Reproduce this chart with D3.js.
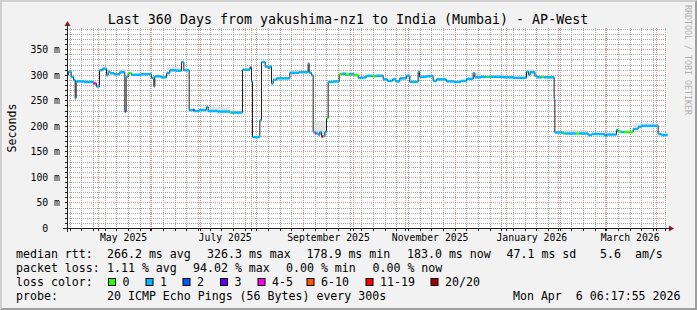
<!DOCTYPE html>
<html>
<head>
<meta charset="utf-8">
<script src="https://cdn.jsdelivr.net/npm/d3@7"></script>
<style>
body { margin: 0; background: #f2f2f2; }
svg { display: block; }
text { font-family: "DejaVu Sans Mono", monospace; fill: #000; white-space: pre; }
</style>
</head>
<body>
<div id="chart"></div>
<script>
// median rtt (ms) as steps: day offset from graph start, value, loss bin
const dayStart = [0, 0.6, 2.2, 3.6, 4.6, 5.2, 10, 15.6, 17.4, 19.2,
    21, 23.4, 24.4, 25.6, 28, 31.4, 34.4, 35.2, 36.4, 38.4,
    44, 50.4, 51.8, 52.4, 56, 59.4, 61.4, 65, 68.4, 69.8,
    73, 75.4, 76.2, 79, 83.4, 84.4, 90, 97.4, 98.4, 105,
    109.4, 110.4, 111, 115.4, 116.4, 118.6, 120.4, 121.4, 122.4, 123.4,
    125.4, 133.4, 139, 144.4, 145, 146.4, 147.4, 148.4, 149.4, 150.4,
    151.4, 152.4, 153.4, 154.4, 155.4, 156.4, 160, 163, 165, 167,
    169, 172, 174.4, 178, 179.4, 183, 185, 189.4, 192, 195,
    197, 199.4, 203.4, 205.4, 210.4, 211.2, 215, 219.4, 221.4, 227.4,
    232, 236, 239.4, 243.4, 244.4, 248, 251.4, 253, 261.4, 268,
    275.4, 276.6, 277.6, 280.4, 281.6, 284.6, 286, 292, 292.4, 297.4,
    298.4, 305, 307, 312.4, 314.6, 322.4, 323.4, 329.4, 330.4, 332,
    334, 339.4, 342.4, 344.4, 354.4, 356.4];

const medianMs = [301, 307, 297, 291, 255, 288, 287, 284, 278, 310,
    313, 300, 307, 304, 302, 306, 229, 297, 304, 301,
    302, 295, 278, 298, 296, 304, 310, 309, 326, 310,
    232, 232, 230, 232, 238, 230, 229, 227, 227, 311,
    315, 288, 179, 212, 326, 317, 314, 317, 284, 291,
    294, 305, 306, 323, 305, 300, 189, 187, 186, 183,
    189, 180, 181, 189, 216, 287, 288, 302, 303, 301,
    302, 300, 295, 296, 299, 298, 299, 292, 289, 292,
    288, 294, 299, 287, 307, 297, 298, 289, 292, 288,
    287, 289, 293, 304, 296, 297, 297, 297, 296, 295,
    307, 301, 306, 299, 296, 297, 296, 253, 188, 186,
    186, 186, 186, 183, 185, 181, 184, 193, 190, 189,
    189, 195, 199, 201, 185, 183];

const lossBin = [1, 1, 1, 1, 1, 1, 1, 4, 1, 1,
    1, 1, 1, 1, 1, 1, 2, 1, 0, 1,
    1, 1, 1, 1, 1, 1, 1, 1, 1, 1,
    1, 3, 1, 1, 1, 1, 1, 0, 1, 1,
    2, 1, 1, 1, 1, 1, 1, 1, 1, 1,
    1, 1, 1, 1, 1, 1, 1, 4, 1, 1,
    1, 6, 1, 1, 0, 1, 1, 0, 1, 0,
    1, 0, 1, 1, 1, 0, 1, 1, 1, 1,
    1, 1, 1, 1, 1, 1, 1, 1, 1, 1,
    1, 1, 1, 1, 1, 1, 0, 1, 1, 1,
    1, 1, 1, 1, 1, 0, 1, 1, 1, 0,
    1, 0, 1, 1, 1, 1, 1, 1, 0, 1,
    0, 1, 1, 1, 1, 1];

// smoke (ping spread) patches
const smokeFrom = [31, 59.4, 84.4, 147.4, 163, 203, 242, 257, 275.4, 298, 339.4];
const smokeTo   = [34.4, 68.4, 97.4, 155.4, 175, 206, 248, 262, 281.6, 312, 354.4];
const smokeLo   = [302, 306, 229, 184, 300, 292, 296, 296, 297, 186, 199];
const smokeHi   = [312, 316, 238, 210, 306, 301, 306, 302, 312, 193, 206];

const lossLabels = ["0", "1", "2", "3", "4-5", "6-10", "11-19", "20/20"];
const lossColors = ["#26ff00", "#00b8ff", "#0059ff", "#5e00ff", "#ff00ea", "#ff5500", "#ff0000", "#a10000"];

const yTicks = [0, 50, 100, 150, 200, 250, 300, 350];
const monthLabels = ["May 2025", "July 2025", "September 2025", "November 2025", "January 2026", "March 2026"];
const monthLabelDates = [[2025, 4], [2025, 6], [2025, 8], [2025, 10], [2026, 0], [2026, 2]];

const rttStats = ["266.2 ms avg", "326.3 ms max", "178.9 ms min", "183.0 ms now", "47.1 ms sd", "5.6  am/s"];
const lossStats = ["1.11 % avg", "94.02 % max", "0.00 % min", "0.00 % now"];
const probeText = "20 ICMP Echo Pings (56 Bytes) every 300s";
const stampText = "Mon Apr  6 06:17:55 2026";
const titleText = "Last 360 Days from yakushima-nz1 to India (Mumbai) - AP-West";

// layout
const width = 697, height = 310;
const plotL = 67, plotR = 667, plotT = 28, plotB = 228;
const yMax = 391.6;
const rttX = [107, 207, 306.5, 407, 506.5, 600];
const lossX = [107, 193, 286, 372.5];
const boxX = [108, 145.5, 182.5, 220, 257.5, 306.5, 365.5, 430.5];
const rowY = [257.5, 271.5, 285.5, 299.5];

const t0 = Date.UTC(2025, 3, 12, 9, 36);
const t1 = t0 + 360 * 864e5;

const x = d3.scaleLinear().domain([0, 360]).range([plotL + 0.5, plotR + 0.5]);
const xt = d3.scaleUtc().domain([t0, t1]).range([plotL + 0.5, plotR + 0.5]);
const y = d3.scaleLinear().domain([0, yMax]).range([plotB + 0.5, plotT + 0.5]);
const px = v => Math.round(v - 0.5) + 0.5;

const svg = d3.select("#chart").append("svg")
    .attr("width", width)
    .attr("height", height);

svg.append("rect").attr("width", width).attr("height", height).attr("fill", "#f2f2f2");
// bevel frame
svg.append("polygon").attr("points", `0,${height} 2,${height - 2} 2,2 ${width - 2},2 ${width},0 0,0`).attr("fill", "#cfcfcf");
svg.append("polygon").attr("points", `2,${height - 2} ${width - 2},${height - 2} ${width - 2},2 ${width},0 ${width},${height} 0,${height}`).attr("fill", "#9e9e9e");

svg.append("rect")
    .attr("x", plotL).attr("y", plotT)
    .attr("width", plotR - plotL).attr("height", plotB - plotT)
    .attr("fill", "#fff");

// grid: 1px dotted lines
const weeks = d3.utcMonday.range(new Date(t0), new Date(t1));
const months = d3.utcMonth.range(new Date(t0), new Date(t1));
const minorY = d3.range(10, yMax, 10).filter(v => v % 50 !== 0);

const minorGrid = svg.append("g")
    .attr("fill", "none")
    .attr("stroke", "#a8a8a8")
    .attr("stroke-width", 1)
    .attr("stroke-dasharray", "1 1");
minorGrid.selectAll("path.v").data(weeks).join("path")
    .attr("class", "v")
    .attr("d", d => `M${px(xt(d))},${plotT}V${plotB}`);
minorGrid.selectAll("path.h").data(minorY).join("path")
    .attr("class", "h")
    .attr("d", d => `M${plotL},${px(y(d))}H${plotR}`);

const majorGrid = svg.append("g")
    .attr("fill", "none")
    .attr("stroke", "#ec9494")
    .attr("stroke-width", 1)
    .attr("stroke-dasharray", "1 1");
majorGrid.selectAll("path.v").data(months).join("path")
    .attr("class", "v")
    .attr("d", d => `M${px(xt(d))},${plotT}V${plotB}`);
majorGrid.selectAll("path.h").data(yTicks.slice(1)).join("path")
    .attr("class", "h")
    .attr("d", d => `M${plotL},${px(y(d))}H${plotR}`);

// smoke
svg.append("g").selectAll("rect").data(smokeFrom).join("rect")
    .attr("x", (d, i) => x(d))
    .attr("width", (d, i) => x(smokeTo[i]) - x(d))
    .attr("y", (d, i) => y(smokeHi[i]))
    .attr("height", (d, i) => y(smokeLo[i]) - y(smokeHi[i]))
    .attr("fill", "#d4d4d4")
    .attr("opacity", 0.6);

// median line
const steps = dayStart.map((d, i) => [d, medianMs[i]]);
steps.push([360, medianMs[medianMs.length - 1]]);
svg.append("path")
    .datum(steps)
    .attr("fill", "none")
    .attr("stroke", "#202020")
    .attr("stroke-width", 1)
    .attr("d", d3.line().x(d => x(d[0])).y(d => y(d[1])).curve(d3.curveStepAfter));

// loss-coloured median bands
svg.append("g")
    .selectAll("rect").data(dayStart).join("rect")
    .attr("x", d => x(d))
    .attr("width", (d, i) => Math.max(1, x(i + 1 < dayStart.length ? dayStart[i + 1] : 360) - x(d)))
    .attr("y", (d, i) => y(medianMs[i]) - 1.25)
    .attr("height", 2.5)
    .attr("fill", (d, i) => lossColors[lossBin[i]]);

// axes
const ax = svg.append("g").attr("shape-rendering", "crispEdges").attr("stroke", "#1f1f1f");
ax.append("line").attr("x1", plotL - 4).attr("x2", plotR + 4).attr("y1", plotB + 0.5).attr("y2", plotB + 0.5);
ax.append("line").attr("x1", plotL + 0.5).attr("x2", plotL + 0.5).attr("y1", plotB + 4).attr("y2", plotT - 4);
ax.selectAll("line.yt").data(d3.range(0, yMax, 10)).join("line")
    .attr("class", "yt")
    .attr("x1", plotL - 2).attr("x2", plotL)
    .attr("y1", d => px(y(d))).attr("y2", d => px(y(d)));
ax.selectAll("line.xt").data(weeks.concat(months)).join("line")
    .attr("class", "xt")
    .attr("x1", d => px(xt(d))).attr("x2", d => px(xt(d)))
    .attr("y1", plotB).attr("y2", plotB + 3);
svg.append("path")
    .attr("d", `M${plotR + 2},${plotB - 2.5}L${plotR + 2},${plotB + 3.5}L${plotR + 7},${plotB + 0.5}Z`)
    .attr("fill", "#801f1f");
svg.append("path")
    .attr("d", `M${plotL - 2.5},${plotT - 2}L${plotL + 3.5},${plotT - 2}L${plotL + 0.5},${plotT - 7}Z`)
    .attr("fill", "#801f1f");

// axis labels
svg.append("g").selectAll("text").data(yTicks).join("text")
    .attr("x", 60)
    .attr("y", d => y(d) + 3.5)
    .attr("text-anchor", "end")
    .attr("font-size", 9.8)
    .text(d => d === 0 ? "0  " : d + " m");
svg.append("g").selectAll("text").data(monthLabels).join("text")
    .attr("x", (d, i) => xt(Date.UTC(monthLabelDates[i][0], monthLabelDates[i][1], 16)))
    .attr("y", 240.5)
    .attr("text-anchor", "middle")
    .attr("font-size", 9.8)
    .text(d => d);
svg.append("text")
    .attr("transform", "translate(15.5,128) rotate(-90)")
    .attr("text-anchor", "middle")
    .attr("font-size", 11.6)
    .text("Seconds");

svg.append("text")
    .attr("x", 348).attr("y", 23.5)
    .attr("text-anchor", "middle")
    .attr("font-size", 13.3)
    .text(titleText);
svg.append("text")
    .attr("transform", "translate(684.5,5) rotate(90)")
    .attr("font-size", 8.3)
    .style("fill", "#b0b0b0")
    .text("RRDTOOL / TOBI OETIKER");

// legend
const lg = svg.append("g").attr("font-size", 11.6);
["median rtt:", "packet loss:", "loss color:", "probe:"].forEach((t, i) => {
    lg.append("text").attr("x", 16).attr("y", rowY[i]).text(t);
});
lg.selectAll("text.rtt").data(rttStats).join("text")
    .attr("class", "rtt")
    .attr("x", (d, i) => rttX[i]).attr("y", rowY[0]).text(d => d);
lg.selectAll("text.loss").data(lossStats).join("text")
    .attr("class", "loss")
    .attr("x", (d, i) => lossX[i]).attr("y", rowY[1]).text(d => d);
lg.selectAll("rect.box").data(lossColors).join("rect")
    .attr("class", "box")
    .attr("x", (d, i) => boxX[i] + 0.5).attr("y", 278.5)
    .attr("width", 7).attr("height", 7)
    .attr("fill", d => d)
    .attr("stroke", "#000").attr("stroke-width", 1);
lg.selectAll("text.boxlab").data(lossLabels).join("text")
    .attr("class", "boxlab")
    .attr("x", (d, i) => boxX[i] + 14.5).attr("y", rowY[2]).text(d => d);
lg.append("text").attr("x", 107).attr("y", rowY[3]).text(probeText);
lg.append("text").attr("x", 680.5).attr("y", rowY[3]).attr("text-anchor", "end").text(stampText);
</script>
</body>
</html>
